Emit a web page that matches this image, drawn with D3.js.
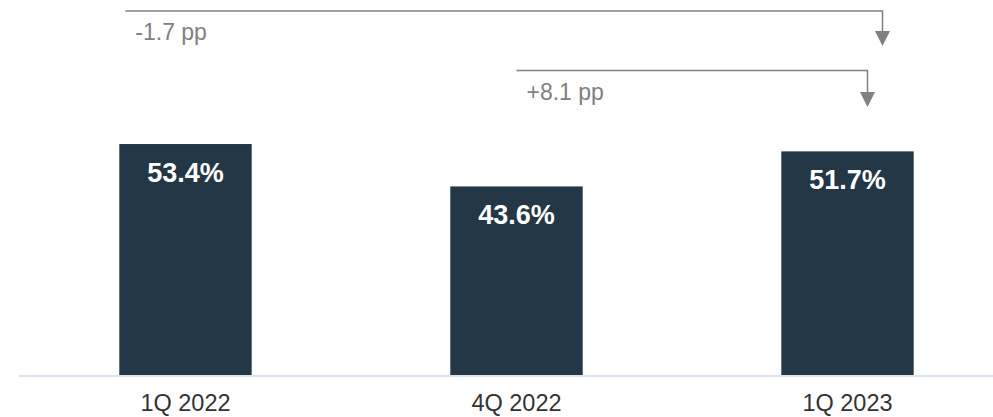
<!DOCTYPE html>
<html>
<head>
<meta charset="utf-8">
<script src="https://cdn.jsdelivr.net/npm/d3@7"></script>
<style>
  html, body { margin: 0; padding: 0; background: #fff; }
  svg { display: block; font-family: "Liberation Sans", Arial, sans-serif; }
</style>
</head>
<body>
<svg width="993" height="417"></svg>
<script>
// chart data
var quarters = ["1Q 2022", "4Q 2022", "1Q 2023"];
var shares = [53.4, 43.6, 51.7];
var changeLabels = ["-1.7 pp", "+8.1 pp"];
var changeFrom = ["1Q 2022", "4Q 2022"];

var svg = d3.select("svg"),
    width = +svg.attr("width"),
    height = +svg.attr("height");

var baseY = 375;

var x = d3.scaleBand()
    .domain(quarters)
    .range([20, 1013])
    .paddingInner(0.6)
    .paddingOuter(0.3);

var y = d3.scaleLinear()
    .domain([0, 86.7])
    .range([baseY, 0]);

var bars = svg.append("g").attr("class", "bars")
    .selectAll("g")
    .data(quarters)
    .enter().append("g");

bars.append("rect")
    .attr("x", function(d) { return x(d); })
    .attr("width", x.bandwidth())
    .attr("y", function(d, i) { return y(shares[i]); })
    .attr("height", function(d, i) { return baseY - y(shares[i]); })
    .attr("fill", "#243746");

bars.append("text")
    .attr("x", function(d) { return x(d) + x.bandwidth() / 2; })
    .attr("y", function(d, i) { return y(shares[i]) + 38; })
    .attr("text-anchor", "middle")
    .attr("fill", "#fff")
    .style("font-weight", "bold")
    .style("font-size", "27px")
    .text(function(d, i) { return shares[i].toFixed(1) + "%"; });

// baseline
svg.append("line")
    .attr("x1", 19).attr("x2", width)
    .attr("y1", baseY + 1).attr("y2", baseY + 1)
    .attr("stroke", "#dbe2ea")
    .attr("stroke-width", 2);

// category labels
var xAxis = d3.axisBottom(x).tickSize(0).tickPadding(0);
var axisG = svg.append("g")
    .attr("transform", "translate(0," + baseY + ")")
    .call(xAxis);
axisG.select(".domain").remove();
axisG.selectAll("text")
    .attr("dy", null)
    .attr("y", 36)
    .attr("fill", "#333")
    .style("font-size", "23.5px")
    .style("font-family", "'Liberation Sans', Arial, sans-serif");

// change annotations (arrow from the compared quarter to the latest one)
var last = quarters[quarters.length - 1];
var ann = [
  { from: x(changeFrom[0]) + 6, toX: x(last) + x.bandwidth() / 2 + 35, lineY: 11, tipY: 46 },
  { from: x(changeFrom[1]) + x.bandwidth() / 2, toX: x(last) + x.bandwidth() / 2 + 20, lineY: 70.5, tipY: 107 }
];

var annG = svg.append("g").attr("class", "changes")
    .selectAll("g")
    .data(ann)
    .enter().append("g");

annG.append("path")
    .attr("fill", "none")
    .attr("stroke", "#808080")
    .attr("stroke-width", 1.5)
    .attr("d", function(d) {
        return "M" + d.from + "," + d.lineY + "H" + d.toX + "V" + (d.tipY - 12);
    });

annG.append("path")
    .attr("fill", "#808080")
    .attr("d", function(d) {
        return "M" + (d.toX - 7.5) + "," + (d.tipY - 15) + "L" + (d.toX + 7.5) + "," + (d.tipY - 15) + "L" + d.toX + "," + d.tipY + "Z";
    });

annG.append("text")
    .attr("x", function(d) { return d.from + 10; })
    .attr("y", function(d) { return d.lineY + 29; })
    .attr("fill", "#808080")
    .style("font-size", "23px")
    .text(function(d, i) { return changeLabels[i]; });
</script>
</body>
</html>
